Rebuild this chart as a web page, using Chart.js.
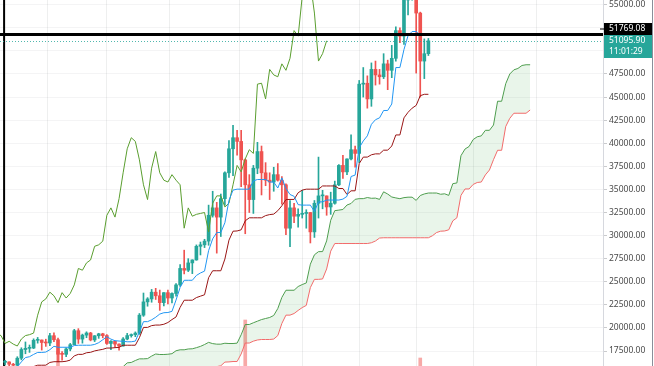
<!DOCTYPE html>
<html>
<head>
<meta charset="utf-8">
<script src="https://cdn.jsdelivr.net/npm/chart.js@4.4.1/dist/chart.umd.min.js"></script>
<style>
  html, body { margin: 0; padding: 0; background: #fff; }
</style>
</head>
<body>
<canvas id="chart" width="654" height="366"></canvas>
<script>
// daily candles, index 0 = Nov 13 2020 ... index 104 = Feb 25 2021 (still open)
const opens = [16280,16320,16070,15960,16720,17660,17790,17820,18660,18690,
  18420,18370,19160,18720,17150,17140,17720,18180,19700,18790,
  19220,19450,18700,19150,19360,19170,18320,18550,18250,18040,
  18800,19170,19270,19440,21380,22820,23140,23870,23480,22740,
  23820,23240,23730,24660,26440,26250,27040,27360,28840,29000,
  29400,32200,33000,32000,34000,36800,39400,40600,40200,38200,
  35500,33900,37300,39100,36800,36000,35800,36600,36000,35500,
  30800,33000,32100,32300,32400,32500,30400,33500,34300,34300,
  33100,33500,35500,37600,36900,38300,39300,38900,46400,46500,
  44800,48000,47400,47200,48600,47900,49200,52200,51600,55900,
  56000,57400,54100,48900,49700]
const highs = [16480,16320,16160,16880,17850,18480,18150,18820,18970,18700,
  18780,19420,19480,18900,17450,17850,18320,19850,19920,19330,
  19580,19520,19170,19420,19420,19290,18640,18570,18280,18950,
  19410,19350,19570,21560,23780,23280,24170,24290,24100,23840,
  24100,23790,24790,26870,28420,27500,27380,28990,29300,29600,
  33300,34800,33600,34500,36900,40300,41950,41400,41400,38300,
  36600,37600,40100,39700,37900,36800,37400,37800,36400,35600,
  33800,33500,32900,34900,32800,32500,33800,38500,34900,34300,
  34700,35900,37700,38700,38300,40900,39700,46800,48200,47300,
  48700,48900,48000,49700,49000,50600,52600,52500,56300,57500,
  58400,57500,54200,51300,51350]
const lows = [15990,15720,15800,15870,16540,17200,17350,17760,18350,17600,
  18000,18080,18500,16330,16500,16880,17520,18180,18320,18350,
  18940,18600,18520,18870,18930,18200,17650,17910,17580,18020,
  18710,19000,19050,19300,21250,22350,22780,23080,21900,22380,
  22600,22700,23440,24500,25850,26100,25880,27330,27900,28700,
  28950,32000,28100,29900,33300,36300,36500,38700,35300,30200,
  32500,32400,36700,34400,35400,33900,34800,35900,33400,30100,
  28800,31400,30900,31900,30800,29200,29800,31900,32900,32200,
  32300,33400,35400,36200,36600,38200,37400,37900,45000,43800,
  44000,46300,46400,47000,45800,47100,48900,50900,50700,53900,
  55500,47600,45000,47000,49500]
const closes = [16320,16070,15960,16720,17660,17790,17820,18660,18690,18420,
  18370,19160,18720,17150,17140,17720,18180,19700,18790,19220,
  19450,18700,19150,19360,19170,18320,18550,18250,18040,18800,
  19170,19270,19440,21380,22820,23140,23870,23480,22740,23820,
  23240,23730,24660,26440,26250,27040,27360,28840,29000,29400,
  32200,33000,32000,34000,36800,39400,40600,40200,38200,35500,
  33900,37300,39100,36800,36000,35800,36600,36000,35500,30800,
  33000,32100,32300,32400,32500,30400,33500,34300,34300,33100,
  33500,35500,37600,36900,38300,39300,38900,46400,46500,44800,
  48000,47400,47200,48600,47900,49200,52200,51600,55900,56000,
  57400,54100,48900,49700,51096]

// ichimoku lines
const tenkan = [15290,15415,15415,15790,16325,16790,16880,17130,17345,17345,
  17385,17645,18010,17905,17905,17905,17905,18090,18125,18125,
  18125,18125,18210,18400,18720,19050,18785,18615,18580,18550,
  18500,18500,18575,19570,20680,20680,20875,21155,21500,21645,
  21670,21795,23020,24385,25160,25160,25160,25685,25950,26150,
  28370,29650,30325,30340,31390,33815,34925,35025,35025,35025,
  35025,35925,36075,36075,36075,35800,35800,35150,36250,35100,
  34450,34250,33350,33300,33300,33300,32600,33650,33650,33850,
  33850,33850,33850,33950,34250,36400,36550,39500,40250,40800,
  42050,42550,42750,43550,43550,44250,48200,48200,50150,51650,
  52100,52100,51700,51700,51700]
const kijun = [13940,14090,14180,14780,15285,15640,15640,15810,15960,15960,
  15965,16260,16340,16340,16340,16390,16515,16975,17135,17135,
  17310,17360,17510,17600,17680,17820,17820,17860,17895,18125,
  18125,18125,18125,18945,20055,20055,20250,20310,20310,20395,
  20585,20905,21185,22225,23000,23000,23000,23285,23440,23590,
  25440,26190,26190,26190,27460,29505,30475,30500,30625,31600,
  31925,31925,31925,31925,32165,32275,32325,32695,33225,33900,
  33915,33915,34640,34925,35025,35025,35025,35025,35375,35375,
  35375,35375,35100,35100,34450,34850,34850,37800,38500,38500,
  38750,38850,38850,39250,39250,39700,40900,40900,42750,43350,
  43800,44100,45150,45300,45300]
// leading spans, drawn 25 bars ahead
const senkouA = [14615,14750,14800,15285,15805,16215,16260,16470,16650,16650,
  16675,16950,17175,17120,17120,17150,17210,17530,17630,17630,
  17720,17740,17860,18000,18200,18435,18300,18240,18240,18340,
  18310,18310,18350,19260,20370,20370,20560,20730,20905,21020,
  21130,21350,22100,23305,24080,24080,24080,24485,24695,24870,
  26905,27920,28260,28265,29425,31660,32700,32760,32825,33310,
  33475,33925,34000,34000,34120,34040,34060,33920,34740,34500,
  34180,34080,33995,34110,34160,34160,33810,34340,34510,34610,
  34610,34610,34475,34525,34350,35625,35700,38650,39375,39650,
  40400,40700,40800,41400,41400,41975,44550,44550,46450,47500,
  47950,48100,48425,48500,48500]
const senkouB = [13310,13340,13430,13630,14115,14430,14430,14600,14675,14675,
  14735,14970,15005,15005,15030,15080,15170,15450,15560,15560,
  15560,15560,15560,15560,15610,15625,15660,15810,15900,16300,
  16320,16360,16360,17180,18365,18365,18565,18695,18745,18745,
  18745,18795,19170,20485,21385,21385,21560,21895,22200,22440,
  24370,25260,25260,25300,26385,28315,29140,29140,29140,29140,
  29140,29140,29140,29140,29140,29225,29415,29735,29765,29765,
  29765,29765,29765,29765,29765,29765,29765,29765,29765,29765,
  29985,30330,30475,30500,30625,31600,31925,34350,35050,35050,
  35540,35750,35800,36570,37100,38225,39240,39240,41815,42700,
  43250,43250,43250,43250,43600]
const shift = 25

// only the tallest volume bars reach into view
const volDays = [13, 59, 102]
const volValues = [69, 100, 62]

const priceTicks = [17500,20000,22500,25000,27500,30000,32500,35000,37500,40000,
  42500,45000,47500,50000,52500,55000]
const gridDays = [3, 18, 32, 49, 66, 80, 94, 108, 122, 139]
const hLinePrice = 51769.08
const lastPrice = 51095.90
const countdown = '11:01:29'
const vLineDay = 0

const UP = '#26a69a'
const DOWN = '#ef5350'
const FONT = '"Noto Sans", "Open Sans", sans-serif'

function candleColor(ctx) {
  const i = ctx.dataIndex
  return closes[i] >= opens[i] ? UP : DOWN
}

const drawings = {
  id: 'drawings',
  beforeDatasetsDraw(chart) {
    const { ctx, chartArea, scales } = chart
    const x = scales.x.getPixelForValue(vLineDay)
    ctx.save()
    ctx.strokeStyle = '#000'
    ctx.lineWidth = 2
    ctx.beginPath()
    ctx.moveTo(x - 1, chartArea.top)
    ctx.lineTo(x - 1, chartArea.bottom)
    ctx.stroke()
    ctx.restore()
  },
  afterDatasetsDraw(chart) {
    const { ctx, chartArea, scales } = chart
    ctx.save()
    // last price dotted line
    const ly = Math.round(scales.y.getPixelForValue(lastPrice)) + 0.5
    ctx.strokeStyle = 'rgba(38,166,154,0.8)'
    ctx.lineWidth = 1
    ctx.setLineDash([1, 2])
    ctx.beginPath()
    ctx.moveTo(chartArea.left, ly)
    ctx.lineTo(chartArea.right, ly)
    ctx.stroke()
    ctx.setLineDash([])
    // horizontal drawing
    const hy = scales.y.getPixelForValue(hLinePrice)
    ctx.strokeStyle = '#000'
    ctx.lineWidth = 3
    ctx.beginPath()
    ctx.moveTo(chartArea.left, hy)
    ctx.lineTo(chartArea.right, hy)
    ctx.stroke()
    ctx.restore()
  },
  afterDraw(chart) {
    const { ctx, chartArea, scales, width } = chart
    const left = chartArea.right + 1
    const w = width - left - 2
    const ly = scales.y.getPixelForValue(lastPrice)
    ctx.save()
    ctx.font = '8.5px ' + FONT
    ctx.textBaseline = 'middle'
    ctx.textAlign = 'left'
    // last price box with countdown
    const tTop = Math.round(ly) - 6
    ctx.fillStyle = UP
    ctx.fillRect(left, tTop, w, 23)
    ctx.fillStyle = '#fff'
    ctx.fillText(lastPrice.toFixed(2), 609, tTop + 6)
    ctx.fillText(countdown, 609, tTop + 16.5)
    // line label, pushed up above the last price box
    const bBottom = tTop
    ctx.fillStyle = '#000'
    ctx.fillRect(left, bBottom - 12, w, 12)
    ctx.fillRect(left - 4, bBottom - 6.5, 4, 1)
    ctx.fillStyle = '#fff'
    ctx.fillText(hLinePrice.toFixed(2), 609, bBottom - 6)
    // right frame
    ctx.fillStyle = '#8a8e99'
    ctx.fillRect(width - 2, 0, 1, chart.height)
    ctx.restore()
  }
}

new Chart(document.getElementById('chart'), {
  type: 'bar',
  data: {
    datasets: [
      {
        label: 'Volume',
        yAxisID: 'yVol',
        data: volDays.map((d, k) => ({ x: d, y: volValues[k] })),
        backgroundColor: 'rgba(239, 83, 80, 0.5)',
        barThickness: 3,
        grouped: false,
        order: 9
      },
      {
        label: 'Wicks',
        data: opens.map((o, i) => ({ x: i, y: [lows[i], highs[i]] })),
        backgroundColor: candleColor,
        barThickness: 1,
        grouped: false,
        order: 8
      },
      {
        label: 'Bodies',
        data: opens.map((o, i) => ({ x: i, y: [o, closes[i]] })),
        backgroundColor: candleColor,
        barThickness: 3,
        minBarLength: 1,
        grouped: false,
        order: 7
      },
      {
        type: 'line',
        label: 'Lead 1',
        data: senkouA.map((v, j) => ({ x: j + shift, y: v })),
        borderColor: '#4f9d4f',
        borderWidth: 1,
        pointRadius: 0,
        fill: false,
        order: 5
      },
      {
        type: 'line',
        label: 'Lead 2',
        data: senkouB.map((v, j) => ({ x: j + shift, y: v })),
        borderColor: '#f26b6b',
        borderWidth: 1,
        pointRadius: 0,
        fill: '-1',
        backgroundColor: 'rgba(76, 175, 80, 0.12)',
        order: 4
      },
      {
        type: 'line',
        label: 'Lagging Span',
        data: closes.map((c, i) => ({ x: i - shift, y: c })),
        borderColor: '#5a9e2f',
        borderWidth: 1,
        pointRadius: 0,
        order: 3
      },
      {
        type: 'line',
        label: 'Base Line',
        data: kijun.map((v, i) => ({ x: i, y: v })),
        borderColor: '#991515',
        borderWidth: 1,
        pointRadius: 0,
        order: 2
      },
      {
        type: 'line',
        label: 'Conversion Line',
        data: tenkan.map((v, i) => ({ x: i, y: v })),
        borderColor: '#2196f3',
        borderWidth: 1,
        pointRadius: 0,
        order: 1
      }
    ]
  },
  options: {
    responsive: false,
    devicePixelRatio: 1,
    animation: false,
    layout: { padding: 0 },
    elements: { line: { tension: 0 } },
    scales: {
      x: {
        type: 'linear',
        min: -1.253,
        max: 146.9,
        offset: false,
        afterBuildTicks: (s) => { s.ticks = gridDays.map(v => ({ value: v })) },
        afterFit: (s) => { s.height = 0; s.paddingLeft = 0; s.paddingRight = 0 },
        ticks: { display: false },
        grid: { color: 'rgba(42, 46, 57, 0.08)', drawTicks: false },
        border: { display: false }
      },
      y: {
        position: 'right',
        min: 15876,
        max: 55514,
        afterBuildTicks: (s) => { s.ticks = priceTicks.map(v => ({ value: v })) },
        afterFit: (s) => { s.width = 51; s.paddingTop = 0; s.paddingBottom = 0 },
        grid: { color: 'rgba(42, 46, 57, 0.05)', tickLength: 4, tickColor: 'rgba(42, 46, 57, 0.25)' },
        border: { color: '#d6d8de' },
        ticks: {
          padding: 2,
          color: '#4a4a4a',
          font: { family: FONT, size: 8.5 },
          callback: (v) => (Math.abs(v - lastPrice) < 2000 || Math.abs(v - hLinePrice) < 2000) ? '' : v.toFixed(2)
        }
      },
      yVol: {
        display: false,
        min: 54,
        max: 420
      }
    },
    plugins: {
      legend: { display: false },
      tooltip: { enabled: false }
    }
  },
  plugins: [drawings]
})
</script>
</body>
</html>
